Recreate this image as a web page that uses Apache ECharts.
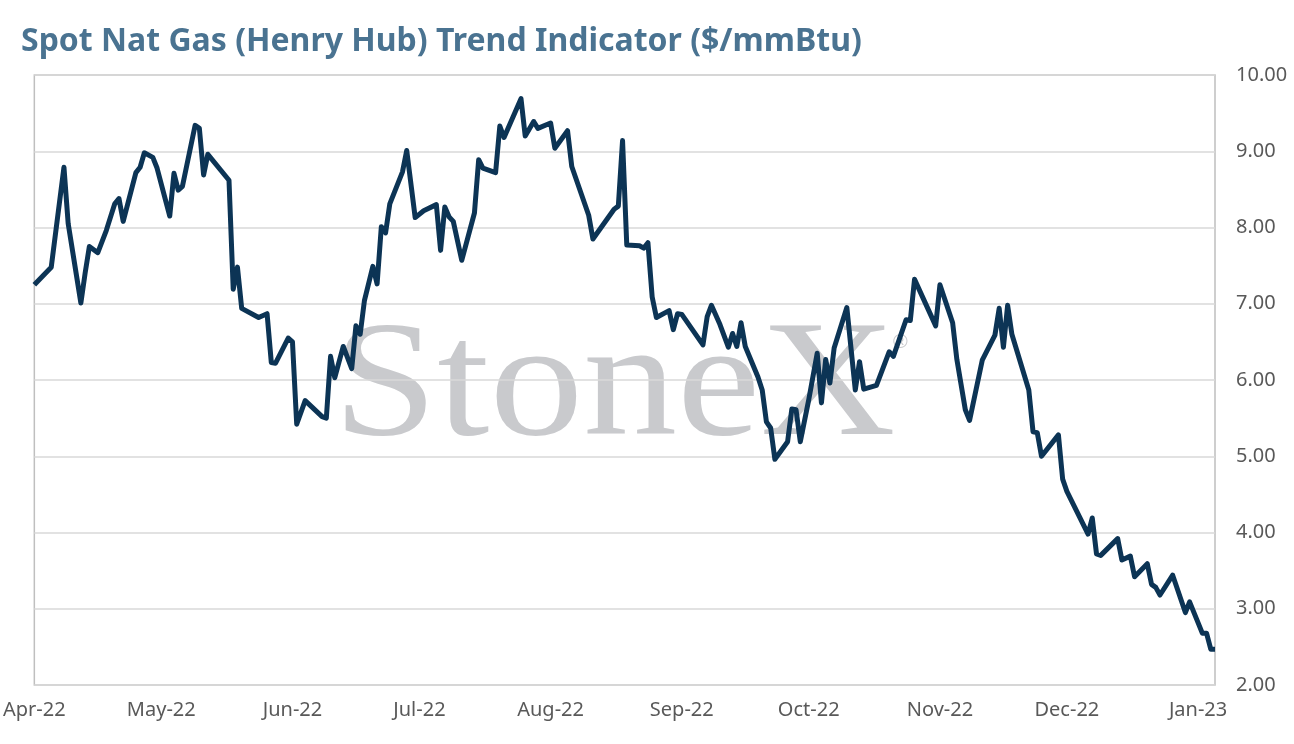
<!DOCTYPE html>
<html>
<head>
<meta charset="utf-8">
<script src="https://cdn.jsdelivr.net/npm/echarts@6/dist/echarts.min.js"></script>
<style>
  html, body { margin: 0; padding: 0; background: #fff; }
  #chart { width: 1294px; height: 744px; }
</style>
</head>
<body>
<div id="chart"></div>
<script>
// dates and prices (vertices of the line)
var dates = [
  '2022-04-01','2022-04-05','2022-04-08','2022-04-09','2022-04-12','2022-04-13','2022-04-14','2022-04-16',
  '2022-04-18','2022-04-20','2022-04-21','2022-04-22','2022-04-25','2022-04-26','2022-04-27','2022-04-29',
  '2022-04-30','2022-05-03','2022-05-04','2022-05-05','2022-05-06','2022-05-09','2022-05-10','2022-05-11',
  '2022-05-12','2022-05-17','2022-05-18','2022-05-19','2022-05-20','2022-05-24','2022-05-26','2022-05-27',
  '2022-05-28','2022-05-31','2022-06-01','2022-06-02','2022-06-04','2022-06-08','2022-06-09','2022-06-10',
  '2022-06-11','2022-06-13','2022-06-15','2022-06-16','2022-06-17','2022-06-18','2022-06-20','2022-06-21',
  '2022-06-22','2022-06-23','2022-06-24','2022-06-27','2022-06-28','2022-06-30','2022-07-02','2022-07-05',
  '2022-07-06','2022-07-07','2022-07-08','2022-07-09','2022-07-11','2022-07-14','2022-07-15','2022-07-16',
  '2022-07-19','2022-07-20','2022-07-21','2022-07-25','2022-07-26','2022-07-28','2022-07-29','2022-08-01',
  '2022-08-02','2022-08-05','2022-08-06','2022-08-10','2022-08-11','2022-08-16','2022-08-17','2022-08-18',
  '2022-08-19','2022-08-22','2022-08-23','2022-08-24','2022-08-25','2022-08-26','2022-08-29','2022-08-30',
  '2022-08-31','2022-09-01','2022-09-06','2022-09-07','2022-09-08','2022-09-10','2022-09-12','2022-09-13',
  '2022-09-14','2022-09-15','2022-09-16','2022-09-19','2022-09-20','2022-09-21','2022-09-22','2022-09-23',
  '2022-09-26','2022-09-27','2022-09-28','2022-09-29','2022-10-01','2022-10-03','2022-10-04','2022-10-05',
  '2022-10-06','2022-10-07','2022-10-10','2022-10-12','2022-10-13','2022-10-14','2022-10-17','2022-10-20',
  '2022-10-21','2022-10-24','2022-10-25','2022-10-26','2022-10-31','2022-11-01','2022-11-04','2022-11-05',
  '2022-11-07','2022-11-08','2022-11-11','2022-11-14','2022-11-15','2022-11-16','2022-11-17','2022-11-18',
  '2022-11-22','2022-11-23','2022-11-24','2022-11-25','2022-11-29','2022-11-30','2022-12-01','2022-12-06',
  '2022-12-07','2022-12-08','2022-12-09','2022-12-13','2022-12-14','2022-12-16','2022-12-17','2022-12-20',
  '2022-12-21','2022-12-22','2022-12-23','2022-12-26','2022-12-29','2022-12-30','2023-01-02','2023-01-03',
  '2023-01-04','2023-01-05'
];
var prices = [
  7.25, 7.48, 8.79, 8.05, 7.01, 7.40, 7.75, 7.67,
  7.96, 8.31, 8.38, 8.08, 8.72, 8.79, 8.98, 8.92,
  8.78, 8.15, 8.71, 8.49, 8.54, 9.34, 9.30, 8.69,
  8.96, 8.62, 7.19, 7.48, 6.94, 6.82, 6.87, 6.23,
  6.22, 6.55, 6.50, 5.42, 5.73, 5.52, 5.50, 6.31,
  6.03, 6.44, 6.15, 6.71, 6.60, 7.04, 7.49, 7.26,
  8.01, 7.93, 8.31, 8.73, 9.01, 8.13, 8.22, 8.30,
  7.70, 8.27, 8.14, 8.08, 7.57, 8.19, 8.89, 8.78,
  8.72, 9.33, 9.18, 9.69, 9.20, 9.39, 9.30, 9.37,
  9.04, 9.27, 8.80, 8.16, 7.85, 8.24, 8.28, 9.14,
  7.77, 7.76, 7.73, 7.80, 7.09, 6.82, 6.91, 6.66,
  6.87, 6.86, 6.46, 6.83, 6.98, 6.73, 6.43, 6.61,
  6.44, 6.75, 6.44, 6.04, 5.87, 5.45, 5.37, 4.96,
  5.19, 5.62, 5.61, 5.19, 5.74, 6.35, 5.70, 6.27,
  5.96, 6.42, 6.95, 5.87, 6.24, 5.88, 5.93, 6.37,
  6.31, 6.79, 6.78, 7.32, 6.71, 7.25, 6.75, 6.27,
  5.61, 5.47, 6.26, 6.59, 6.94, 6.43, 6.98, 6.60,
  5.87, 5.32, 5.31, 5.00, 5.28, 4.70, 4.54, 3.98,
  4.19, 3.72, 3.70, 3.92, 3.64, 3.69, 3.42, 3.59,
  3.32, 3.28, 3.18, 3.44, 2.95, 3.09, 2.68, 2.68,
  2.47, 2.47
];
var monthTicks = ['2022-04-01','2022-05-01','2022-06-01','2022-07-01','2022-08-01',
  '2022-09-01','2022-10-01','2022-11-01','2022-12-01','2023-01-01'];
var tickLabels = ['Apr-22','May-22','Jun-22','Jul-22','Aug-22','Sep-22','Oct-22','Nov-22','Dec-22','Jan-23'];

function ts(s) {
  var p = s.split('-');
  return new Date(+p[0], +p[1] - 1, +p[2]).getTime();
}
var tickTs = monthTicks.map(ts);
var seriesData = dates.map(function (d, i) { return [ts(d), prices[i]]; });

var font = '"Noto Sans", "Open Sans", sans-serif';
var myChart = echarts.init(document.getElementById('chart'));
myChart.setOption({
  backgroundColor: '#fff',
  animation: false,
  title: {
    text: 'Spot Nat Gas (Henry Hub) Trend Indicator ($/mmBtu)',
    left: 16, top: 21,
    textStyle: { color: '#4a7391', fontSize: 32, fontWeight: 'bold', fontFamily: font }
  },
  graphic: [{
    // StoneX watermark behind the plot
    type: 'text', z: -10, silent: true,
    x: 333, y: 473, scaleX: 1.054, scaleY: 0.933,
    style: {
      x: 0, y: 0, text: 'StoneX', fill: '#c9cacd',
      font: '178px "Liberation Serif", "DejaVu Serif", serif',
      textVerticalAlign: 'bottom'
    }
  }, {
    type: 'text', z: -10, silent: true,
    style: {
      x: 893, y: 332, text: '\u00AE', fill: '#c9cacd',
      font: '20px "Liberation Sans", sans-serif'
    }
  }],
  grid: {
    left: 33, right: 79, top: 75, bottom: 59,
    show: true, borderColor: '#bfbfbf', borderWidth: 1.5, backgroundColor: 'transparent'
  },
  xAxis: {
    // dates placed on a linear scale of timestamps
    type: 'value',
    min: ts('2022-04-01'), max: ts('2023-01-05'),
    axisLine: { show: false },
    axisTick: { show: false },
    splitLine: { show: false },
    axisLabel: {
      customValues: tickTs,
      color: '#595959', fontSize: 20, fontFamily: font, margin: 15,
      formatter: function (v) {
        var i = tickTs.indexOf(v);
        return i >= 0 ? tickLabels[i] : '';
      }
    }
  },
  yAxis: {
    type: 'value', position: 'right',
    min: 2, max: 10, interval: 1,
    axisLine: { show: false },
    axisTick: { show: false },
    splitLine: { lineStyle: { color: '#d9d9d9', width: 1.5 } },
    axisLabel: {
      color: '#595959', fontSize: 20, fontFamily: font, margin: 21,
      formatter: function (v) { return v.toFixed(2); }
    }
  },
  series: [{
    type: 'line',
    data: seriesData,
    showSymbol: false,
    lineStyle: { color: '#0c3455', width: 5, join: 'round' },
    itemStyle: { color: '#0c3455' }
  }]
});
</script>
</body>
</html>
